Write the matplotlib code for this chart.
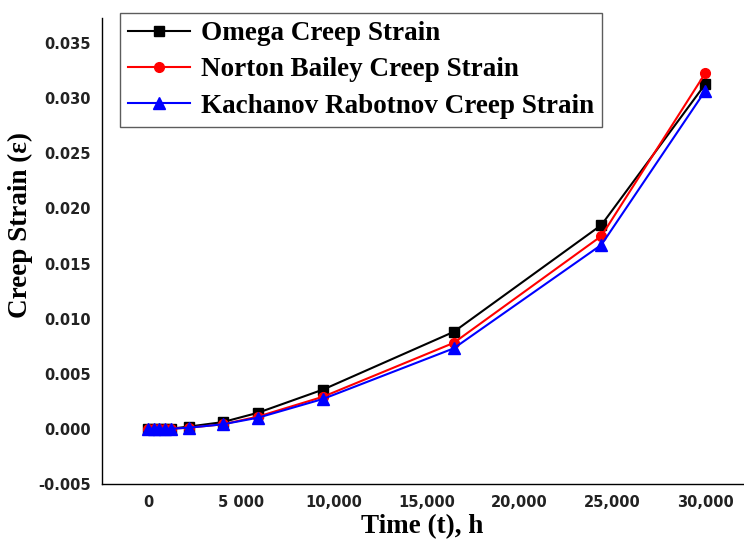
import numpy as np
import matplotlib
matplotlib.use("Agg")
import matplotlib.pyplot as plt
from matplotlib.ticker import FixedLocator

# time (h) and strain
time_h = [0, 300, 600, 900, 1200, 2200, 4000, 5900, 9400, 16450, 24400, 30000]
omega = [0.0, 0.0, 0.0, 0.0, 0.0, 0.0002, 0.0006, 0.00145, 0.00355, 0.0088, 0.0185, 0.0313]
norton = [0.0, 0.0, 0.0, 0.0, 0.0, 0.0001, 0.0004, 0.0011, 0.0029, 0.0078, 0.0175, 0.0323]
kachanov = [0.0, 0.0, 0.0, 0.0, 0.0, 0.0001, 0.0004, 0.0010, 0.0027, 0.0073, 0.0167, 0.0307]

xticks = [0, 5000, 10000, 15000, 20000, 25000, 30000]
xticklabels = ["0", "5 000", "10,000", "15,000", "20,000", "25,000", "30,000"]
yticks = [-0.005, 0.0, 0.005, 0.010, 0.015, 0.020, 0.025, 0.030, 0.035]

serif = ["Liberation Serif", "DejaVu Serif"]

fig = plt.figure(figsize=(7.44, 5.43), dpi=100)
ax = fig.add_axes([0.137, 0.109, 0.861, 0.858])

ax.plot(time_h, omega, "-s", color="black", lw=1.5, ms=7, label="Omega Creep Strain")
ax.plot(time_h, norton, "-o", color="red", lw=1.5, ms=7, label="Norton Bailey Creep Strain")
ax.plot(time_h, kachanov, "-^", color="blue", lw=1.5, ms=8, label="Kachanov Rabotnov Creep Strain")

ax.set_xlim(-2500, 32000)
ax.set_ylim(-0.005, 0.0373)
ax.xaxis.set_major_locator(FixedLocator(xticks))
ax.set_xticklabels(xticklabels)
ax.yaxis.set_major_locator(FixedLocator(yticks))
ax.set_yticklabels(["%.3f" % v for v in yticks])
ax.tick_params(length=0, pad=8)
for lab in ax.get_xticklabels() + ax.get_yticklabels():
    lab.set_fontweight("bold")
    lab.set_fontsize(10.5)
    lab.set_color("#222222")

for s in ["top", "right"]:
    ax.spines[s].set_visible(False)
for s in ["left", "bottom"]:
    ax.spines[s].set_linewidth(1.0)

ax.set_xlabel("Time (t), h", family=serif, fontweight="bold", fontsize=19.5, labelpad=3)
ax.set_ylabel("Creep Strain (\u03b5)", family=serif, fontweight="bold", fontsize=19.5)
ax.yaxis.set_label_coords(-0.108, 0.555)

leg = ax.legend(loc="upper left", bbox_to_anchor=(120 / 744, 1 - 13 / 543),
                bbox_transform=fig.transFigure, frameon=True, fancybox=False,
                prop={"family": serif, "weight": "bold", "size": 19.5},
                handlelength=2.3, borderpad=0.3, labelspacing=0.42, handletextpad=0.4,
                borderaxespad=0)
leg.get_frame().set_edgecolor("#333333")
leg.get_frame().set_linewidth(1.0)

fig.savefig("out.png", dpi=100)
